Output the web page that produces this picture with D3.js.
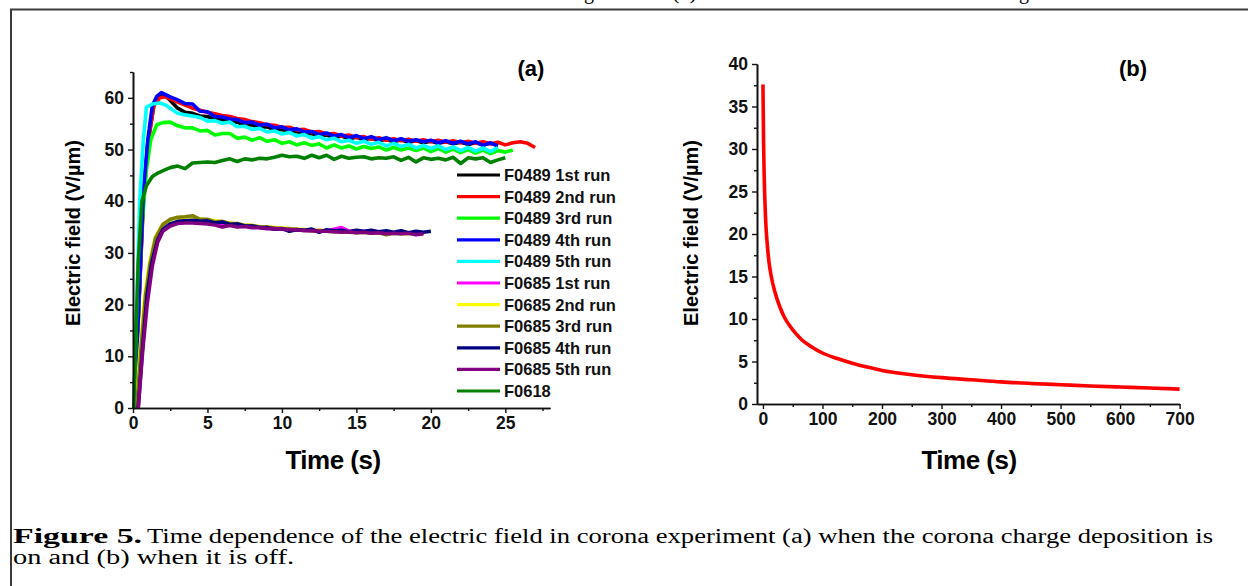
<!DOCTYPE html>
<html>
<head>
<meta charset="utf-8">
<script src="https://cdn.jsdelivr.net/npm/d3@7"></script>
<style>
  html, body { margin: 0; padding: 0; background: #fff; }
  svg { display: block; }
  .tick text { font-family: "Liberation Sans", Arial, sans-serif; font-weight: bold; fill: #111; }
</style>
</head>
<body>
<script>
// shared sampling times of the slow part of every run (panel a)
var tailTime = [2.5, 3, 3.5, 4, 4.5, 5, 5.5, 6, 6.5, 7, 7.5, 8, 8.5, 9, 9.5, 10, 10.5, 11, 11.5, 12,
  12.5, 13, 13.5, 14, 14.5, 15, 15.5, 16, 16.5, 17, 17.5, 18, 18.5, 19, 19.5, 20, 20.5, 21, 21.5, 22,
  22.5, 23, 23.5, 24, 24.5, 25, 25.5, 26, 26.5, 27];

var seriesNames = ["F0489 1st run", "F0489 2nd run", "F0489 3rd run", "F0489 4th run", "F0489 5th run",
  "F0685 1st run", "F0685 2nd run", "F0685 3rd run", "F0685 4th run", "F0685 5th run", "F0618"];
var seriesColors = ["#000000", "#ff0000", "#00ff00", "#0000ff", "#00ffff",
  "#ff00ff", "#ffff00", "#808000", "#000080", "#800080", "#008000"];

// start-up part [t, E] of each run
var riseF0489_1 = [[0.1, 0], [0.7, 41], [1.0, 51.5], [1.4, 58.5], [1.8, 60.5], [2.1, 60.6]];
var riseF0489_2 = [[0.1, 0], [0.7, 40], [1.0, 51], [1.4, 58.5], [1.8, 60.0], [2.2, 60.2]];
var riseF0489_3 = [[0.1, 0], [0.6, 35], [0.9, 46], [1.2, 52], [1.6, 54.8], [2.0, 55.2]];
var riseF0489_4 = [[0.1, 0], [0.7, 42], [1.0, 52], [1.3, 58.5], [1.6, 60.3], [1.9, 61.0], [2.2, 60.6]];
var riseF0489_5 = [[0.05, 0], [0.45, 40], [0.7, 52], [0.9, 58.2], [1.3, 58.8], [1.8, 59.0], [2.2, 58.6]];
var riseF0685_1 = [[0.3, 0], [0.6, 12], [0.9, 22], [1.2, 28], [1.6, 32.5], [2.0, 34.8]];
var riseF0685_2 = [[0.2, 0], [0.5, 12], [0.8, 22], [1.1, 28], [1.5, 33], [2.0, 35.6]];
var riseF0685_3 = [[0.25, 0], [0.55, 12], [0.85, 22], [1.15, 28], [1.5, 32.8], [2.0, 35.5]];
var riseF0685_4 = [[0.35, 0], [0.65, 12], [0.95, 22], [1.25, 28], [1.65, 32.5], [2.0, 34.5]];
var riseF0685_5 = [[0.35, 0], [0.65, 11], [0.95, 20], [1.3, 27.5], [1.65, 32], [2.0, 34.2]];
var riseF0618 = [[0.05, 0], [0.35, 28], [0.6, 40], [0.9, 43], [1.3, 44.8], [1.7, 45.5], [2.1, 46.0]];

// values of each run on tailTime (V/um)
var tailF0489_1 = [59.5, 58.0, 57.2, 57.0, 56.5, 56.4, 55.9, 55.8, 55.3, 55.3, 54.7, 54.8, 54.2, 54.4, 53.8,
  53.9, 53.3, 53.5, 52.9, 53.1, 52.6, 52.8, 52.3, 52.6, 52.1, 52.4, 51.9, 52.2, 51.7, 52.0, 51.5, 51.9,
  51.4, 51.7, 51.3, 51.6, 51.2, 51.5, 51.1, 51.4, 51.0, 51.3, 50.9, 51.2, 50.8];
var tailF0489_2 = [59.8, 59.2, 58.6, 58.0, 57.6, 57.2, 56.9, 56.6, 56.4, 56.0, 55.8, 55.4, 55.2, 54.8, 54.7,
  54.3, 54.3, 53.8, 53.9, 53.4, 53.5, 53.0, 53.1, 52.6, 52.8, 52.3, 52.5, 52.0, 52.3, 51.8, 52.1, 51.7,
  52.0, 51.6, 51.9, 51.5, 51.8, 51.4, 51.7, 51.3, 51.6, 51.2, 51.5, 51.1, 51.4, 50.9, 51.3, 51.5, 51.2, 50.4];
var tailF0489_3 = [55.3, 54.6, 54.2, 54.2, 53.6, 53.7, 52.8, 53.1, 53.1, 52.2, 52.4, 51.8, 52.3, 51.6, 51.9,
  51.2, 51.5, 50.9, 51.3, 50.8, 51.1, 50.3, 50.9, 50.3, 50.7, 50.1, 50.6, 50.2, 50.5, 49.9, 50.4, 49.9,
  50.3, 49.8, 50.3, 49.6, 50.2, 49.5, 50.1, 49.4, 50.0, 49.3, 49.9, 49.2, 49.8, 49.5, 49.9];
var tailF0489_4 = [60.2, 59.6, 58.9, 58.8, 57.4, 57.3, 56.4, 56.3, 55.9, 55.8, 55.2, 55.3, 54.7, 54.9, 54.2,
  54.4, 53.8, 54.0, 53.4, 53.5, 52.9, 53.2, 52.6, 52.9, 52.3, 52.7, 52.1, 52.5, 51.9, 52.3, 51.7, 52.1,
  51.6, 51.9, 51.5, 51.8, 51.3, 51.7, 51.2, 51.6, 51.1, 51.5, 50.8, 51.3, 50.7];
var tailF0489_5 = [58.0, 57.0, 56.7, 56.5, 56.2, 55.5, 55.6, 55.1, 55.3, 54.4, 54.5, 53.9, 54.1, 53.4, 53.6,
  53.0, 53.3, 52.6, 52.9, 52.2, 52.5, 51.9, 52.2, 51.5, 51.8, 51.2, 51.6, 51.0, 51.4, 50.7, 51.2, 50.6,
  51.0, 50.3, 50.8, 50.2, 50.7, 50.0, 50.5, 49.8, 50.4, 49.7, 50.3, 49.6, 50.4];
var tailF0685_1 = [35.6, 36.0, 36.1, 36.0, 35.8, 35.9, 35.5, 35.6, 35.4, 35.3, 35.2, 35.0, 35.0, 34.8, 34.7,
  34.6, 34.7, 34.4, 34.5, 34.3, 34.4, 34.2, 34.6, 34.9, 34.2, 34.3, 34.1, 34.2, 34.0, 34.1, 33.9, 34.0,
  33.8, 34.0, 33.7];
var tailF0685_2 = [36.4, 36.8, 36.9, 37.0, 36.6, 36.4, 36.2, 36.0, 35.8, 35.6, 35.4, 35.3, 35.1, 35.0, 34.9,
  34.8, 34.7, 34.6, 34.5, 34.4, 34.4, 34.3, 34.2, 34.2, 34.1, 34.0, 34.1, 33.9, 34.0, 33.8, 33.9, 33.7,
  33.8, 33.7, 33.9];
var tailF0685_3 = [36.5, 36.9, 37.0, 37.2, 36.5, 36.5, 36.0, 36.1, 35.7, 35.7, 35.3, 35.3, 35.0, 35.0, 34.8,
  34.7, 34.6, 34.5, 34.4, 34.3, 34.3, 34.2, 34.1, 34.1, 34.0, 33.9, 34.0, 33.8, 33.9, 33.5, 33.8, 33.7,
  33.8, 33.6, 33.9];
var tailF0685_4 = [35.6, 36.1, 36.2, 36.3, 36.1, 36.2, 35.8, 36.0, 35.5, 35.6, 35.2, 35.2, 34.9, 34.9, 34.6,
  34.7, 34.2, 34.5, 34.4, 34.6, 34.0, 34.5, 34.3, 34.4, 34.1, 34.4, 34.2, 34.4, 34.1, 34.3, 34.0, 34.3,
  33.9, 34.2, 34.0, 34.2];
var tailF0685_5 = [35.2, 35.7, 35.8, 35.8, 35.7, 35.6, 35.4, 35.0, 35.3, 35.0, 35.1, 34.9, 34.9, 34.7, 34.7,
  34.6, 34.5, 34.5, 34.3, 34.3, 34.2, 34.2, 34.1, 34.0, 34.1, 33.9, 34.0, 33.8, 33.9, 33.7, 33.8, 33.7,
  33.8, 33.5, 33.7];
var tailF0618 = [46.5, 46.8, 46.3, 47.4, 47.5, 47.6, 47.5, 47.9, 48.2, 47.7, 48.2, 48.0, 48.3, 48.2, 48.5,
  48.9, 48.6, 48.7, 48.3, 48.9, 48.4, 48.9, 48.1, 48.7, 48.3, 48.5, 48.6, 48.2, 48.4, 48.3, 48.6, 47.9,
  48.5, 47.6, 48.4, 48.1, 48.3, 48.0, 48.5, 47.3, 48.4, 48.2, 48.4, 47.5, 48.0, 48.4];

// panel b: decay after the corona is switched off
var decayTime = [0, 1, 2, 3, 5, 7, 10, 14, 20, 28, 36, 45, 55, 66, 80, 100, 125, 150, 175, 200,
  250, 300, 350, 400, 450, 500, 550, 600, 650, 700];
var decayField = [37.6, 31, 27, 24.5, 21, 19, 16.8, 15, 13.2, 11.5, 10.2, 9.2, 8.3, 7.5, 6.8, 6.0, 5.35, 4.8,
  4.35, 3.95, 3.45, 3.1, 2.85, 2.6, 2.42, 2.27, 2.12, 2.0, 1.88, 1.75];

var xTicksA = [0, 5, 10, 15, 20, 25];
var yTicksA = [0, 10, 20, 30, 40, 50, 60];
var xTicksB = [0, 100, 200, 300, 400, 500, 600, 700];
var yTicksB = [0, 5, 10, 15, 20, 25, 30, 35, 40];

var rises = [riseF0489_1, riseF0489_2, riseF0489_3, riseF0489_4, riseF0489_5,
  riseF0685_1, riseF0685_2, riseF0685_3, riseF0685_4, riseF0685_5, riseF0618];
var tails = [tailF0489_1, tailF0489_2, tailF0489_3, tailF0489_4, tailF0489_5,
  tailF0685_1, tailF0685_2, tailF0685_3, tailF0685_4, tailF0685_5, tailF0618];

var W = 1248, H = 586;
var sans = '"Liberation Sans", Arial, sans-serif';
var serif = '"Liberation Serif", "Times New Roman", serif';

var svg = d3.select("body").append("svg").attr("width", W).attr("height", H);

// frame around the figure
svg.append("path")
  .attr("d", "M11,586 L11,9.5 L1248,9.5")
  .attr("fill", "none").attr("stroke", "#3a3a3a").attr("stroke-width", 2);

// descenders of the text line above, cut by the top edge
[["g", 584, 0], ["(a)", 672, 25], ["g", 1019, 0]].forEach(function(f) {
  var t = svg.append("text").attr("x", f[1]).attr("y", -1.5)
    .attr("font-family", serif).attr("font-size", 20).text(f[0]);
  if (f[2]) t.attr("textLength", f[2]).attr("lengthAdjust", "spacingAndGlyphs");
});

var drawAxes = function(x, y, xt, xm, yt, ym, fs) {
  var g = svg.append("g");
  var ax = function(axis, tr, vals, size, labels) {
    var a = axis.tickValues(vals).tickSize(size).tickSizeOuter(0).tickPadding(4);
    if (!labels) a.tickFormat("");
    var gg = g.append("g").attr("transform", tr).call(a);
    gg.select(".domain").attr("stroke", "#111").attr("stroke-width", 1.6);
    gg.selectAll(".tick line").attr("stroke", "#111").attr("stroke-width", 1.4);
    gg.selectAll(".tick text").attr("font-size", fs);
    return gg;
  };
  var x0 = x.range()[0], y0 = y.range()[0];
  ax(d3.axisBottom(x), "translate(0," + y0 + ")", xm, 3, false);
  ax(d3.axisBottom(x), "translate(0," + y0 + ")", xt, 5, true);
  ax(d3.axisLeft(y), "translate(" + x0 + ",0)", ym, 3, false);
  ax(d3.axisLeft(y), "translate(" + x0 + ",0)", yt, 5, true);
};

// ---------- panel (a) ----------
var xa = d3.scaleLinear().domain([0, 28]).range([133, 550]);
var ya = d3.scaleLinear().domain([0, 65]).range([408, 72]);

var lineA = d3.line().x(function(d) { return xa(d[0]); }).y(function(d) { return ya(d[1]); });

var seriesA = seriesNames.map(function(name, i) {
  var pts = rises[i].concat(tails[i].map(function(v, j) { return [tailTime[j], v]; }));
  return { name: name, color: seriesColors[i], pts: pts };
});

svg.append("g").selectAll("path").data(seriesA).enter().append("path")
  .attr("d", function(d) { return lineA(d.pts); })
  .attr("fill", "none")
  .attr("stroke", function(d) { return d.color; })
  .attr("stroke-width", 3.6)
  .attr("stroke-linejoin", "round");

drawAxes(xa, ya, xTicksA, [2.5, 7.5, 12.5, 17.5, 22.5, 27.5], yTicksA, [5, 15, 25, 35, 45, 55, 65], 17.5);

var legend = svg.append("g");
seriesA.forEach(function(d, i) {
  var yy = 175 + i * 21.6;
  legend.append("line").attr("x1", 457).attr("x2", 500).attr("y1", yy).attr("y2", yy)
    .attr("stroke", d.color).attr("stroke-width", 3.2);
  legend.append("text").attr("x", 504).attr("y", yy + 6)
    .attr("font-family", sans).attr("font-weight", "bold").attr("font-size", 16.5)
    .attr("fill", "#111").text(d.name);
});

svg.append("text").attr("x", 531).attr("y", 76).attr("text-anchor", "middle")
  .attr("font-family", sans).attr("font-weight", "bold").attr("font-size", 22).text("(a)");
svg.append("text").attr("x", 333).attr("y", 469).attr("text-anchor", "middle")
  .attr("font-family", sans).attr("font-weight", "bold").attr("font-size", 26).attr("letter-spacing", -0.5)
  .text("Time (s)");
svg.append("text").attr("transform", "translate(80,233) rotate(-90)").attr("text-anchor", "middle")
  .attr("font-family", sans).attr("font-weight", "bold").attr("font-size", 20)
  .text("Electric field (V/\u00b5m)");

// ---------- panel (b) ----------
var xb = d3.scaleLinear().domain([-10, 700]).range([757, 1179.6]);
var yb = d3.scaleLinear().domain([0, 40]).range([404, 64]);

var lineB = d3.line().curve(d3.curveMonotoneX)
  .x(function(d, i) { return xb(decayTime[i]); }).y(function(d) { return yb(d); });

svg.append("path").attr("d", lineB(decayField))
  .attr("fill", "none").attr("stroke", "#ff0000").attr("stroke-width", 3.6);

drawAxes(xb, yb, xTicksB, [50, 150, 250, 350, 450, 550, 650], yTicksB,
  [2.5, 7.5, 12.5, 17.5, 22.5, 27.5, 32.5, 37.5], 17.5);

svg.append("text").attr("x", 1133).attr("y", 76).attr("text-anchor", "middle")
  .attr("font-family", sans).attr("font-weight", "bold").attr("font-size", 22).text("(b)");
svg.append("text").attr("x", 969).attr("y", 469).attr("text-anchor", "middle")
  .attr("font-family", sans).attr("font-weight", "bold").attr("font-size", 26).attr("letter-spacing", -0.5)
  .text("Time (s)");
svg.append("text").attr("transform", "translate(698,233) rotate(-90)").attr("text-anchor", "middle")
  .attr("font-family", sans).attr("font-weight", "bold").attr("font-size", 20)
  .text("Electric field (V/\u00b5m)");

// ---------- caption ----------
svg.append("text").attr("x", 13).attr("y", 542.5)
  .attr("font-family", serif).attr("font-size", 20).attr("font-weight", "bold").attr("fill", "#000")
  .attr("textLength", 129).attr("lengthAdjust", "spacingAndGlyphs")
  .text("Figure 5.");
svg.append("text").attr("x", 147).attr("y", 542.5)
  .attr("font-family", serif).attr("font-size", 20).attr("fill", "#000")
  .attr("textLength", 1066).attr("lengthAdjust", "spacingAndGlyphs")
  .text("Time dependence of the electric field in corona experiment (a) when the corona charge deposition is");
svg.append("text").attr("x", 13).attr("y", 563.5)
  .attr("font-family", serif).attr("font-size", 20).attr("fill", "#000")
  .attr("textLength", 281).attr("lengthAdjust", "spacingAndGlyphs")
  .text("on and (b) when it is off.");
</script>
</body>
</html>
